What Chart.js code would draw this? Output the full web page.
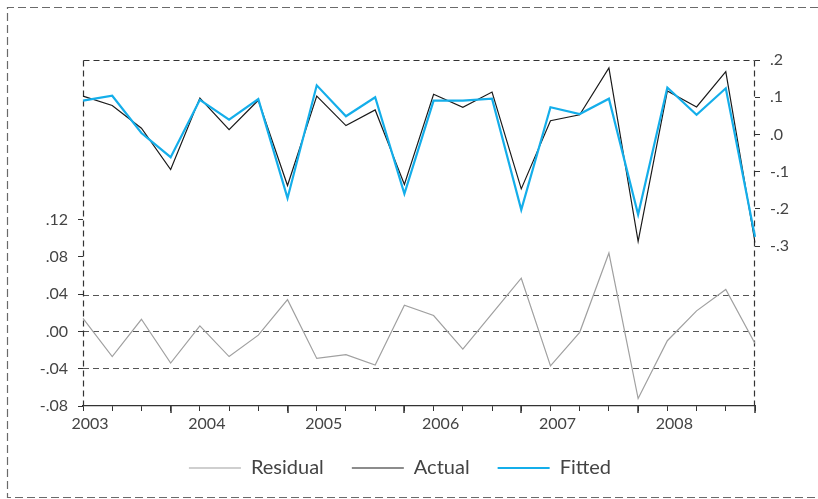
<!DOCTYPE html>
<html>
<head>
<meta charset="utf-8">
<script src="https://cdn.jsdelivr.net/npm/chart.js@4/dist/chart.umd.min.js"></script>
<style>
  html, body { margin: 0; padding: 0; background: #ffffff; }
  #wrap { width: 818px; height: 499px; position: relative; }
</style>
</head>
<body>
<div id="wrap"><canvas id="c" width="818" height="499"></canvas></div>
<script>
// Quarterly observations 2003Q1 - 2008Q4
const quarters = [
  '2003Q1','2003Q2','2003Q3','2003Q4',
  '2004Q1','2004Q2','2004Q3','2004Q4',
  '2005Q1','2005Q2','2005Q3','2005Q4',
  '2006Q1','2006Q2','2006Q3','2006Q4',
  '2007Q1','2007Q2','2007Q3','2007Q4',
  '2008Q1','2008Q2','2008Q3','2008Q4'
];

// Dependent variable (right axis)
const actual = [
  0.103, 0.078, 0.017, -0.094,
  0.098, 0.013, 0.092, -0.137,
  0.103, 0.024, 0.066, -0.134,
  0.108, 0.073, 0.114, -0.146,
  0.037, 0.053, 0.179, -0.287,
  0.117, 0.074, 0.169, -0.290
];

// Fitted values from the regression (right axis)
const fitted = [
  0.091, 0.104, 0.004, -0.061,
  0.093, 0.040, 0.095, -0.171,
  0.132, 0.049, 0.100, -0.159,
  0.091, 0.091, 0.096, -0.202,
  0.073, 0.055, 0.096, -0.215,
  0.126, 0.053, 0.124, -0.275
];

// Residuals (left axis)
const residual = [
  0.014, -0.027, 0.013, -0.034,
  0.006, -0.027, -0.004, 0.034,
  -0.029, -0.025, -0.036, 0.028,
  0.017, -0.019, 0.019, 0.057,
  -0.037, -0.001, 0.084, -0.072,
  -0.010, 0.022, 0.045, -0.013
];

// Zero line and +/- one standard error band of the residuals
const residualBands = [-0.0395, 0, 0.0395];

// Tick values shown on each axis
const leftTicks = [-0.08, -0.04, 0.00, 0.04, 0.08, 0.12];
const rightTicks = [-0.3, -0.2, -0.1, 0.0, 0.1, 0.2];

// Axis ranges
const leftRange = { min: -0.08, max: 0.291 };
const rightRange = { min: -0.729, max: 0.2 };

const FONT = "Lato, 'Open Sans', 'DejaVu Sans', sans-serif";
const TEXT = '#444444';
const FRAME = '#333333';

// EViews-style decimal labels: .12, -.04, .0
function decLabel(v, digits) {
  const s = Math.abs(v).toFixed(digits).replace(/^0/, '');
  return (v < -1e-9 ? '-' : '') + s;
}

function strokeLine(ctx, x1, y1, x2, y2) {
  ctx.beginPath();
  ctx.moveTo(x1, y1);
  ctx.lineTo(x2, y2);
  ctx.stroke();
}

const framePlugin = {
  id: 'frames',
  beforeDraw(chart) {
    const ctx = chart.ctx;
    ctx.save();
    ctx.strokeStyle = '#6a6a6a';
    ctx.lineWidth = 1.2;
    ctx.setLineDash([8, 4]);
    ctx.beginPath();
    ctx.moveTo(818, 7.5);
    ctx.lineTo(7.5, 7.5);
    ctx.lineTo(7.5, 497.5);
    ctx.lineTo(818, 497.5);
    ctx.stroke();
    ctx.restore();
  },
  beforeDatasetsDraw(chart) {
    const ctx = chart.ctx;
    const area = chart.chartArea;
    const yL = chart.scales.yL;
    ctx.save();
    ctx.lineWidth = 1.2;
    ctx.setLineDash([6, 4]);
    ctx.strokeStyle = '#555555';
    residualBands.forEach(v => {
      const y = Math.round(yL.getPixelForValue(v)) + 0.5;
      strokeLine(ctx, area.left, y, area.right, y);
    });
    // dashed plot frame: top, left and right edges
    ctx.strokeStyle = FRAME;
    const l = Math.round(area.left) + 0.5;
    const r = Math.round(area.right) - 0.5;
    const t = Math.round(area.top) + 0.5;
    strokeLine(ctx, l, t, r, t);
    strokeLine(ctx, l, t, l, area.bottom);
    strokeLine(ctx, r, t, r, area.bottom);
    ctx.restore();
  },
  afterDraw(chart) {
    // longer tick marks at the last quarter of each year
    const ctx = chart.ctx;
    const x = chart.scales.x;
    const b = chart.chartArea.bottom;
    ctx.save();
    ctx.strokeStyle = FRAME;
    ctx.lineWidth = 1.5;
    quarters.forEach((q, i) => {
      if (q.endsWith('Q4')) {
        const px = Math.round(x.getPixelForValue(i));
        strokeLine(ctx, px, b, px, b + 7);
      }
    });
    ctx.restore();
  }
};

new Chart(document.getElementById('c'), {
  type: 'line',
  data: {
    labels: quarters,
    datasets: [
      {
        label: 'Residual',
        data: residual,
        yAxisID: 'yL',
        borderColor: '#a0a0a0',
        backgroundColor: '#a0a0a0',
        borderWidth: 1.2,
        pointRadius: 0,
        tension: 0,
        order: 2
      },
      {
        label: 'Actual',
        data: actual,
        yAxisID: 'yR',
        borderColor: '#1a1a1a',
        backgroundColor: '#1a1a1a',
        borderWidth: 1.2,
        pointRadius: 0,
        tension: 0,
        order: 1
      },
      {
        label: 'Fitted',
        data: fitted,
        yAxisID: 'yR',
        borderColor: '#14aeea',
        backgroundColor: '#14aeea',
        borderWidth: 2.2,
        pointRadius: 0,
        tension: 0,
        order: 0
      }
    ]
  },
  options: {
    responsive: false,
    animation: false,
    layout: { padding: { top: 60, left: 0, right: 18, bottom: 11 } },
    plugins: {
      tooltip: { enabled: false },
      legend: {
        position: 'bottom',
        labels: {
          usePointStyle: true,
          pointStyle: 'line',
          pointStyleWidth: 52,
          padding: 28,
          color: TEXT,
          font: { family: FONT, size: 20 },
          sort: (a, b) => a.datasetIndex - b.datasetIndex
        }
      }
    },
    scales: {
      x: {
        type: 'category',
        offset: false,
        afterFit(scale) { scale.height = 24; },
        border: { display: true, color: FRAME, width: 1.2 },
        grid: {
          drawOnChartArea: false,
          drawTicks: true,
          tickLength: 5,
          color: FRAME
        },
        ticks: {
          autoSkip: false,
          maxRotation: 0,
          padding: 3,
          labelOffset: 7,
          color: TEXT,
          font: { family: FONT, size: 16 },
          callback: (val, idx) => (idx % 4 === 0 ? quarters[idx].slice(0, 4) : '')
        }
      },
      yL: {
        type: 'linear',
        position: 'left',
        min: leftRange.min,
        max: leftRange.max,
        afterFit(scale) { scale.width = 83; },
        afterBuildTicks(scale) { scale.ticks = leftTicks.map(v => ({ value: v })); },
        border: { display: false },
        grid: { drawOnChartArea: false, drawTicks: true, tickLength: 5, color: FRAME },
        ticks: {
          padding: 10,
          color: TEXT,
          font: { family: FONT, size: 16 },
          callback: v => decLabel(v, 2)
        }
      },
      yR: {
        type: 'linear',
        position: 'right',
        min: rightRange.min,
        max: rightRange.max,
        afterFit(scale) { scale.width = 45; },
        afterBuildTicks(scale) { scale.ticks = rightTicks.map(v => ({ value: v })); },
        border: { display: false },
        grid: { drawOnChartArea: false, drawTicks: true, tickLength: 5, color: FRAME },
        ticks: {
          padding: 10,
          color: TEXT,
          font: { family: FONT, size: 16 },
          callback: v => decLabel(v, 1)
        }
      }
    }
  },
  plugins: [framePlugin]
});
</script>
</body>
</html>
